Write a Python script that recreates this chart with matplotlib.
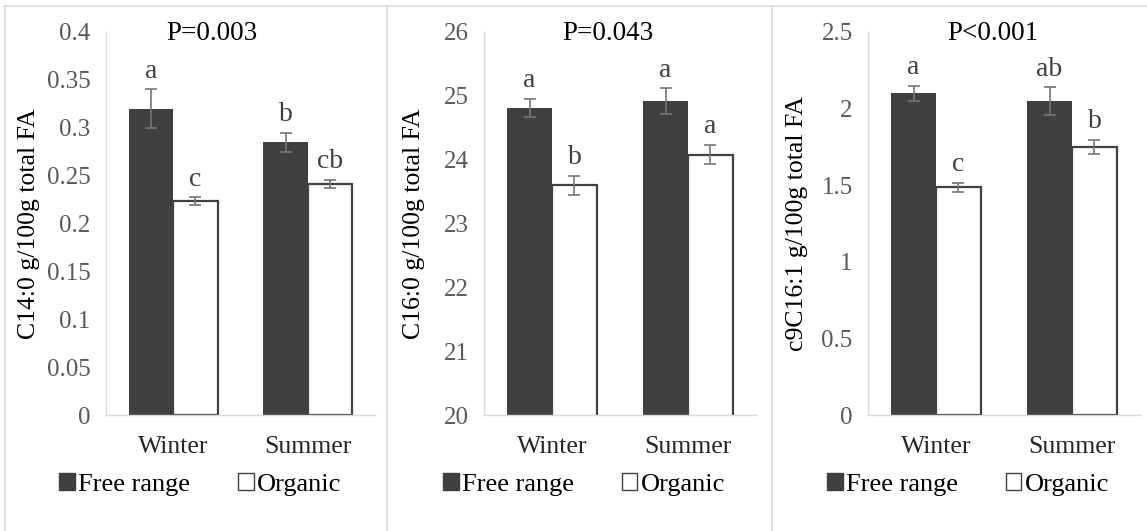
import numpy as np
from matplotlib import pyplot as plt
from matplotlib.lines import Line2D
from matplotlib.patches import Patch

plt.rcParams['font.family'] = ['Liberation Serif', 'DejaVu Serif']

seasons = ["Winter", "Summer"]
groups = ["Free range", "Organic"]

c14_free = [0.32, 0.285]
c14_free_err = [0.02, 0.01]
c14_org = [0.2235, 0.2415]
c14_org_err = [0.004, 0.004]
c14_letters_free = ["a", "b"]
c14_letters_org = ["c", "cb"]

c16_free = [24.81, 24.92]
c16_free_err = [0.14, 0.2]
c16_org = [23.6, 24.08]
c16_org_err = [0.15, 0.15]
c16_letters_free = ["a", "a"]
c16_letters_org = ["b", "a"]

c9_free = [2.1, 2.05]
c9_free_err = [0.05, 0.09]
c9_org = [1.485, 1.75]
c9_org_err = [0.03, 0.045]
c9_letters_free = ["a", "ab"]
c9_letters_org = ["c", "b"]

panels = [
    dict(free=c14_free, ferr=c14_free_err, org=c14_org, oerr=c14_org_err,
         lf=c14_letters_free, lo=c14_letters_org, ylim=(0, 0.4),
         yticks=[0, 0.05, 0.1, 0.15, 0.2, 0.25, 0.3, 0.35, 0.4],
         yticklabels=["0", "0.05", "0.1", "0.15", "0.2", "0.25", "0.3", "0.35", "0.4"],
         ylabel="C14:0 g/100g total FA", title="P=0.003",
         box=(106, 375), ylab_x=-0.245, title_x=0.394, leg_x=0.35),
    dict(free=c16_free, ferr=c16_free_err, org=c16_org, oerr=c16_org_err,
         lf=c16_letters_free, lo=c16_letters_org, ylim=(20, 26),
         yticks=[20, 21, 22, 23, 24, 25, 26],
         yticklabels=["20", "21", "22", "23", "24", "25", "26"],
         ylabel="C16:0 g/100g total FA", title="P=0.043",
         box=(484, 756), ylab_x=-0.218, title_x=0.456, leg_x=0.368),
    dict(free=c9_free, ferr=c9_free_err, org=c9_org, oerr=c9_org_err,
         lf=c9_letters_free, lo=c9_letters_org, ylim=(0, 2.5),
         yticks=[0, 0.5, 1, 1.5, 2, 2.5],
         yticklabels=["0", "0.5", "1", "1.5", "2", "2.5"],
         ylabel="c9C16:1 g/100g total FA", title="P<0.001",
         box=(868, 1140), ylab_x=-0.222, title_x=0.46, leg_x=0.368),
]

W, H = 1147, 531
fig = plt.figure(figsize=(W / 100, H / 100), dpi=100)

dark = '#404040'
axis_gray = '#d9d9d9'
err_gray = '#767676'
x = np.arange(len(seasons))
bw = 0.33

for p in panels:
    x0, x1 = p["box"]
    top, bottom = 32, 415
    ax = fig.add_axes([x0 / W, (H - bottom) / H, (x1 - x0) / W, (bottom - top) / H])

    ax.bar(x - bw / 2, p["free"], bw, color=dark, edgecolor=dark, linewidth=0, zorder=2)
    ax.bar(x + bw / 2, p["org"], bw, color='white', edgecolor=dark, linewidth=1.6, zorder=2)
    ax.errorbar(x - bw / 2, p["free"], yerr=p["ferr"], fmt='none', ecolor=err_gray,
                elinewidth=1.2, capsize=4, capthick=1.2, zorder=3)
    ax.errorbar(x + bw / 2, p["org"], yerr=p["oerr"], fmt='none', ecolor=err_gray,
                elinewidth=1.2, capsize=4, capthick=1.2, zorder=3)

    # significance letters
    for xi, v, e, t in zip(x - bw / 2, p["free"], p["ferr"], p["lf"]):
        ax.annotate(t, (xi, v + e), xytext=(0, 4), textcoords='offset points',
                    ha='center', va='bottom', fontsize=20, color='#404040')
    for xi, v, e, t in zip(x + bw / 2, p["org"], p["oerr"], p["lo"]):
        ax.annotate(t, (xi, v + e), xytext=(0, 4), textcoords='offset points',
                    ha='center', va='bottom', fontsize=20, color='#404040')

    ax.set_xlim(-0.5, 1.5)
    ax.set_ylim(*p["ylim"])
    ax.set_yticks(p["yticks"])
    ax.set_yticklabels(p["yticklabels"])
    ax.set_xticks(x)
    ax.set_xticklabels(seasons)
    ax.tick_params(axis='y', length=0, pad=11, labelsize=18, labelcolor='#595959')
    ax.tick_params(axis='x', length=0, pad=15, labelsize=18.5, labelcolor='#262626')
    for s in ['top', 'right']:
        ax.spines[s].set_visible(False)
    for s in ['left', 'bottom']:
        ax.spines[s].set_color(axis_gray)
        ax.spines[s].set_linewidth(1.0)

    ax.set_ylabel(p["ylabel"], fontsize=18.5, color='black')
    ax.yaxis.set_label_coords(p["ylab_x"], 0.5)
    ax.text(p["title_x"], 0.995, p["title"], transform=ax.transAxes,
            ha='center', va='center', fontsize=19.5)

    handles = [Patch(facecolor=dark, edgecolor=dark, linewidth=1),
               Patch(facecolor='white', edgecolor=dark, linewidth=1)]
    ax.legend(handles, groups, loc='center', bbox_to_anchor=(p["leg_x"], -0.182),
              ncol=2, frameon=False, fontsize=19, handlelength=0.6, handleheight=0.6,
              handletextpad=0.12, columnspacing=1.8, borderaxespad=0)

# panel frame lines
def px_line(xs, ys):
    fig.add_artist(Line2D([v / W for v in xs], [1 - v / H for v in ys],
                          transform=fig.transFigure, color=axis_gray, linewidth=1.1))

px_line([4, W], [6, 6])
px_line([5, 5], [6, H])
px_line([387, 387], [6, H])
px_line([772, 772], [6, H])

fig.savefig("out.png", dpi=100)
